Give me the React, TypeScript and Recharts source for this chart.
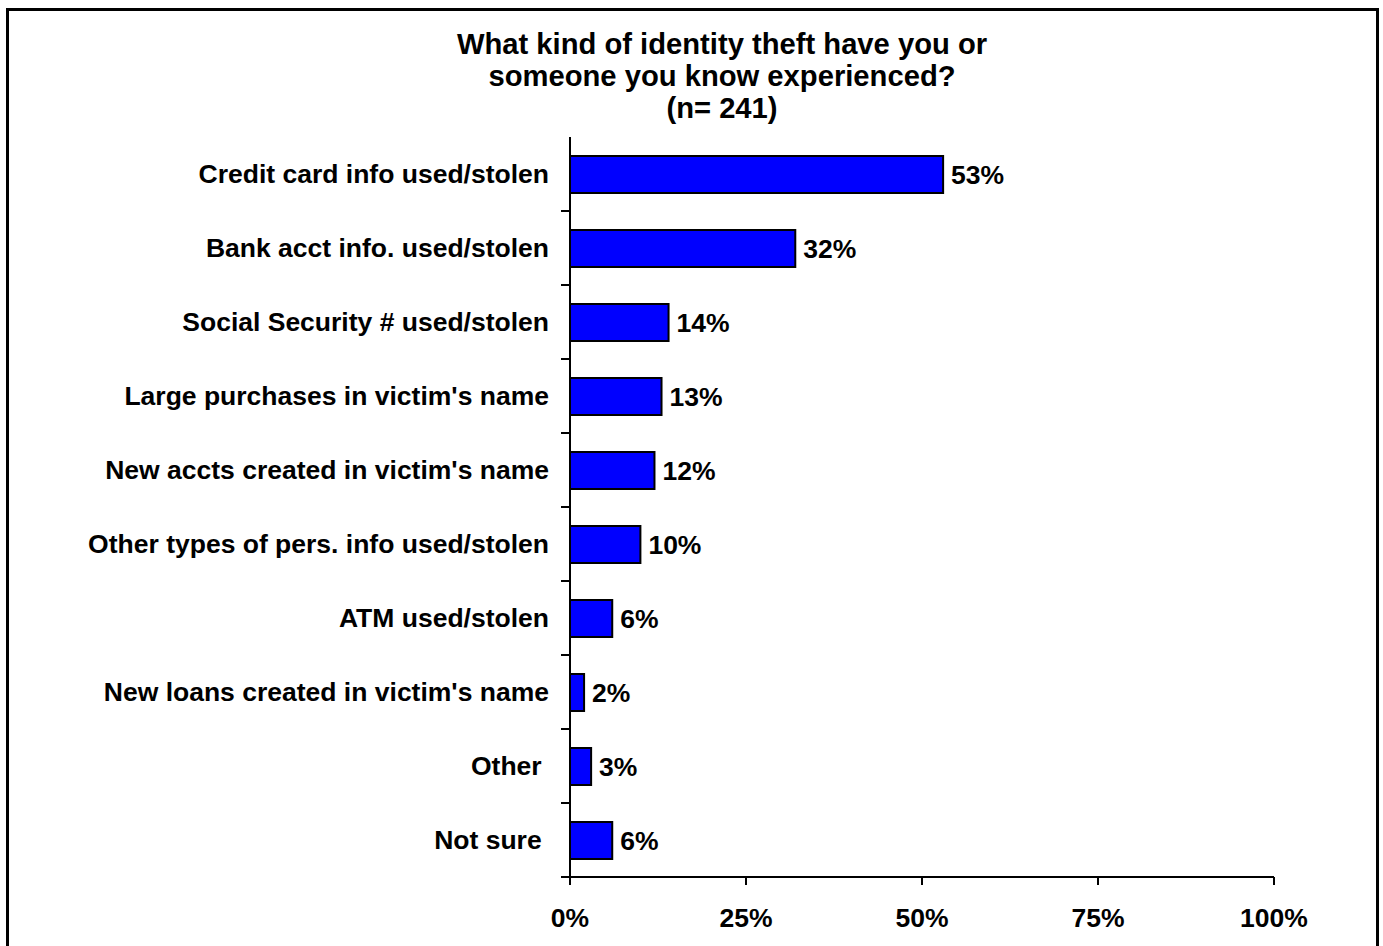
import { Bar, BarChart, Customized, LabelList, XAxis, YAxis } from "recharts";

const categories = [
  "Credit card info used/stolen",
  "Bank acct info. used/stolen",
  "Social Security # used/stolen",
  "Large purchases in victim's name",
  "New accts created in victim's name",
  "Other types of pers. info used/stolen",
  "ATM used/stolen",
  "New loans created in victim's name",
  "Other ",
  "Not sure ",
];
const percents = [53, 32, 14, 13, 12, 10, 6, 2, 3, 6];
const xTicks = [0, 25, 50, 75, 100];
const titleLines = [
  "What kind of identity theft have you or",
  "someone you know experienced?",
  "(n= 241)",
];

const data = categories.map((name, i) => ({ name, val: percents[i] }));

const FONT = "'Liberation Sans', Arial, sans-serif";

const CategoryTick = ({ x, y, payload }: any) => {
  const half = payload?.offset ?? 37;
  return (
    <g>
      <text
        x={x - 13}
        y={y}
        dy={9}
        textAnchor="end"
        fill="#000"
        fontFamily={FONT}
        fontWeight="bold"
        fontSize={26.5}
        style={{ whiteSpace: "pre" }}
      >
        {payload.value}
      </text>
      <line x1={x - 1} x2={x + 8} y1={y + half} y2={y + half} stroke="#000" strokeWidth={2} />
    </g>
  );
};

const Title = () => (
  <text x={722} y={54} textAnchor="middle" fill="#000" fontFamily={FONT} fontWeight="bold" fontSize={29.2}>
    {titleLines.map((t, i) => (
      <tspan key={i} x={722} dy={i === 0 ? 0 : 32}>
        {t}
      </tspan>
    ))}
  </text>
);

export default function App() {
  return (
    <div style={{ position: "relative", width: 1383, height: 946, overflow: "hidden", background: "#fff" }}>
      <style>{`body{margin:0}`}</style>
      <div
        style={{
          position: "absolute",
          left: 6,
          top: 8,
          width: 1367,
          height: 960,
          border: "3px solid #000",
        }}
      />
      <BarChart
        width={1383}
        height={946}
        data={data}
        layout="vertical"
        margin={{ top: 137, right: 109, left: 0, bottom: 0 }}
        style={{ position: "absolute", left: 0, top: 0 }}
      >
        <XAxis
          type="number"
          domain={[0, 100]}
          ticks={xTicks}
          height={69}
          tickFormatter={(v) => `${v}%`}
          axisLine={{ stroke: "#000", strokeWidth: 2 }}
          tickLine={{ stroke: "#000", strokeWidth: 2 }}
          tickSize={8}
          tickMargin={23}
          tick={{ fill: "#000", fontFamily: FONT, fontWeight: "bold", fontSize: 26.5 }}
        />
        <YAxis
          type="category"
          dataKey="name"
          width={570}
          axisLine={{ stroke: "#000", strokeWidth: 2 }}
          tickLine={false}
          interval={0}
          tick={<CategoryTick />}
        />
        <Bar dataKey="val" fill="#0000FF" stroke="#000" strokeWidth={2} barSize={37} isAnimationActive={false}>
          <LabelList
            dataKey="val"
            position="right"
            offset={8}
            formatter={(v: any) => `${v}%`}
            fill="#000"
            fontFamily={FONT}
            fontWeight="bold"
            fontSize={26.5}
          />
        </Bar>
        <Customized component={Title} />
      </BarChart>
    </div>
  );
}
